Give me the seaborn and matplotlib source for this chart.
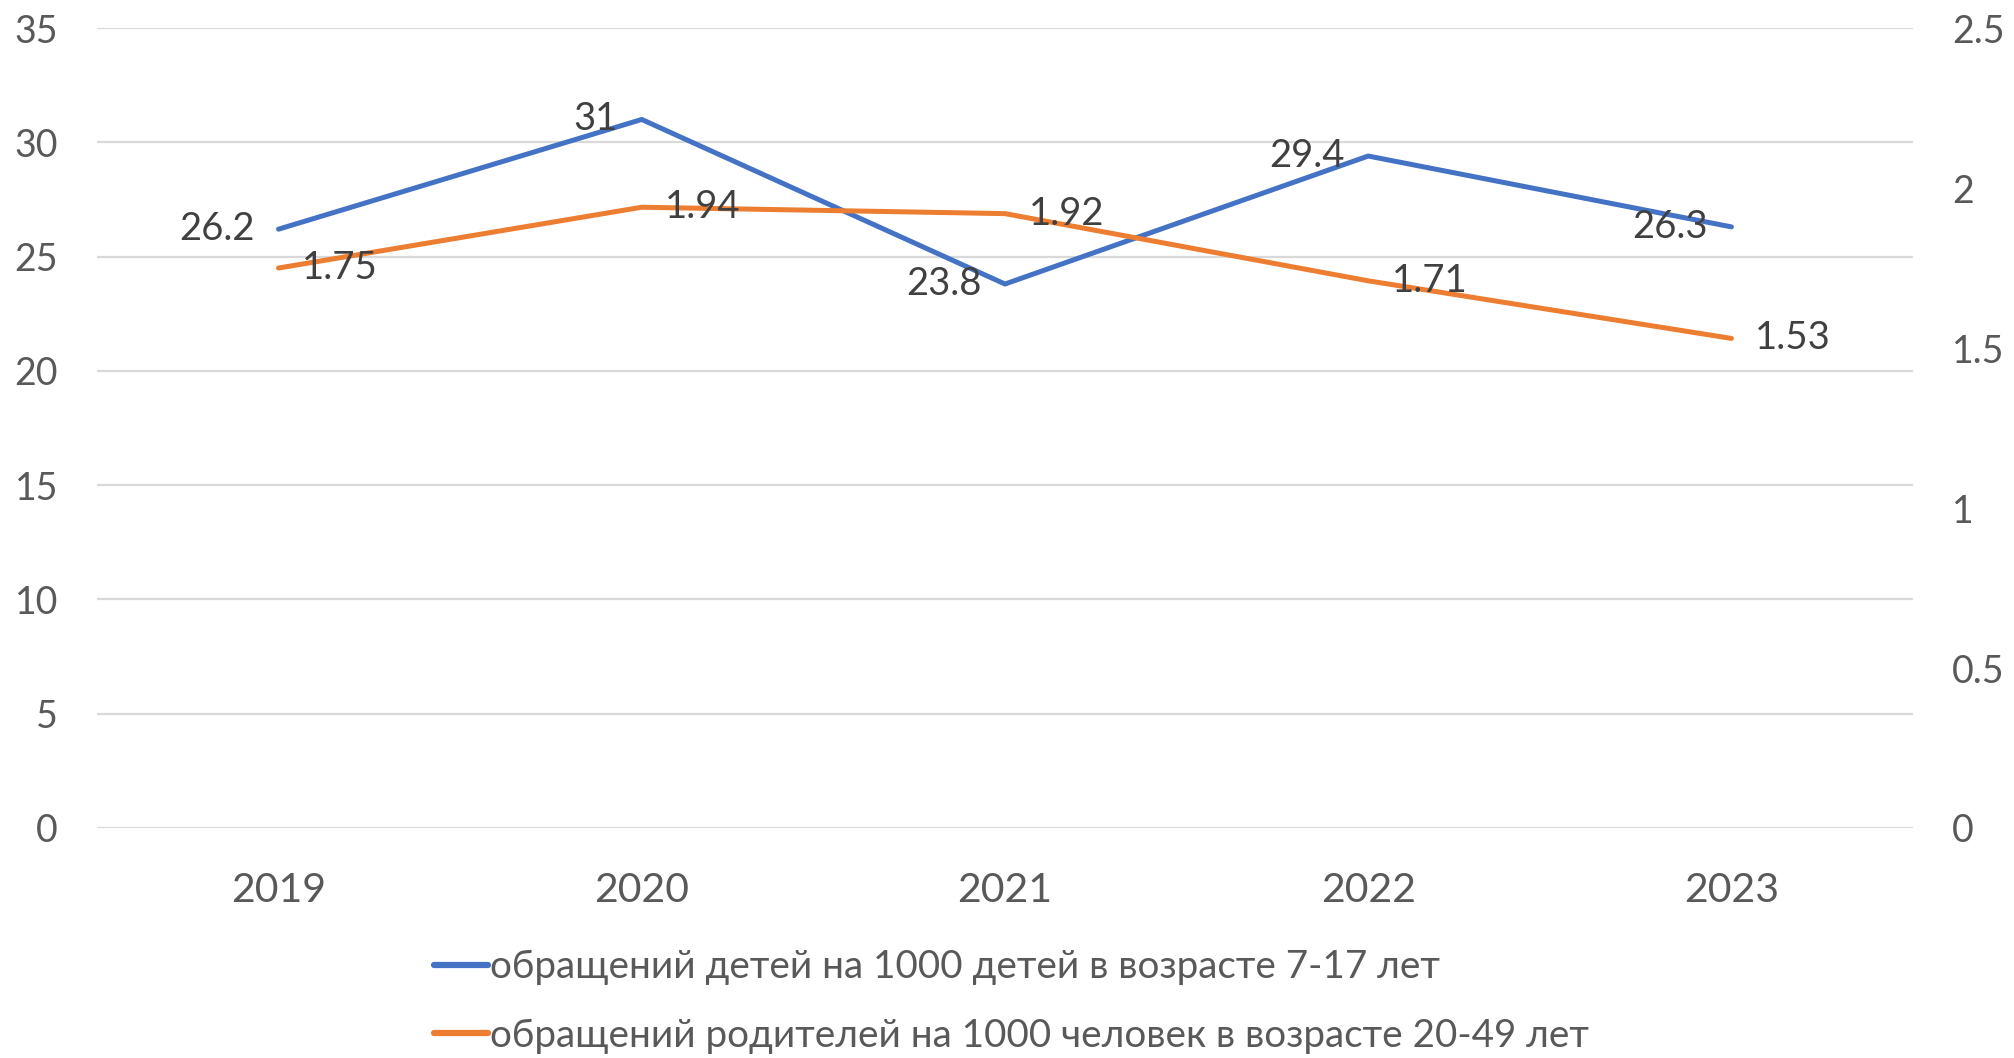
import pandas as pd
import seaborn as sns
import matplotlib.pyplot as plt

# data
years = ["2019", "2020", "2021", "2022", "2023"]
children = [26.2, 31, 23.8, 29.4, 26.3]
parents = [1.75, 1.94, 1.92, 1.71, 1.53]
left_ticks = [0, 5, 10, 15, 20, 25, 30, 35]
right_ticks = [0, 0.5, 1, 1.5, 2, 2.5]
right_labels = ["0", "0.5", "1", "1.5", "2", "2.5"]
label_children = "обращений детей на 1000 детей в возрасте 7-17 лет"
label_parents = "обращений родителей на 1000 человек в возрасте 20-49 лет"

blue = "#4472C4"
orange = "#ED7D31"
grey = "#595959"

sns.set_style("white")
plt.rcParams["font.family"] = ["Lato", "Open Sans", "DejaVu Sans"]

df = pd.DataFrame({"year": years, "children": children, "parents": parents})
df["x"] = range(len(df))

fig = plt.figure(figsize=(20.15, 10.58), dpi=100)
ax = fig.add_axes([0.0481, 0.2174, 0.9013, 0.7561])
ax2 = ax.twinx()

sns.lineplot(data=df, x="x", y="children", ax=ax, color=blue, linewidth=3.6,
             label=label_children, legend=False)
sns.lineplot(data=df, x="x", y="parents", ax=ax2, color=orange, linewidth=3.6,
             label=label_parents, legend=False)

ax.set_xlim(-0.5, len(years) - 0.5)
ax.set_ylim(0, 35)
ax2.set_ylim(0, 2.5)
ax.set_yticks(left_ticks)
ax.set_yticklabels([str(t) for t in left_ticks])
ax2.set_yticks(right_ticks)
ax2.set_yticklabels(right_labels)
ax.set_xticks(df["x"])
ax.set_xticklabels(years)
ax.set_xlabel("")
ax.set_ylabel("")
ax2.set_ylabel("")

ax.grid(axis="y", color="#D9D9D9", linewidth=1.6)
ax.grid(axis="x", visible=False)
ax2.grid(False)
for a in (ax, ax2):
    for s in a.spines.values():
        s.set_visible(False)
ax.tick_params(axis="y", length=0, pad=28, labelsize=27, labelcolor=grey)
ax.tick_params(axis="x", length=0, pad=32, labelsize=29.5, labelcolor=grey)
ax2.tick_params(axis="y", length=0, pad=28, labelsize=27, labelcolor=grey)

for i, v in enumerate(children):
    ax.annotate(f"{v:g}", (i, v), xytext=(-17, 0), textcoords="offset points",
                ha="right", va="center", fontsize=27.5, color="#404040")
for i, v in enumerate(parents):
    ax2.annotate(f"{v:g}", (i, v), xytext=(17, 0), textcoords="offset points",
                 ha="left", va="center", fontsize=27.5, color="#404040")

h1, l1 = ax.get_legend_handles_labels()
h2, l2 = ax2.get_legend_handles_labels()
leg = fig.legend(h1 + h2, l1 + l2, loc="lower center", bbox_to_anchor=(0.502, -0.029),
                 ncol=1, frameon=False, fontsize=27.8, labelcolor=grey,
                 handlelength=1.4, handletextpad=0.05, labelspacing=0.85)
for line in leg.get_lines():
    line.set_linewidth(4.5)

fig.savefig("out.png", dpi=100)
